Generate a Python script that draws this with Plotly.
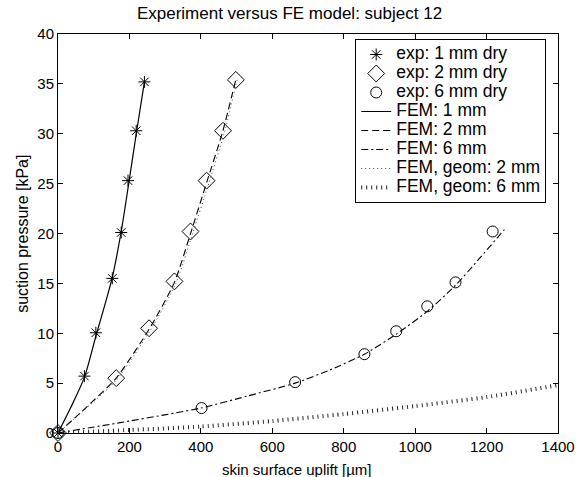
import plotly.graph_objects as go

# ---- data ----
exp1_x = [0, 74, 106, 152, 177, 196, 219, 242]
exp1_y = [0, 5.7, 10.05, 15.5, 20.1, 25.3, 30.3, 35.2]
exp2_x = [0, 163, 255, 326, 371, 416, 462, 498]
exp2_y = [0, 5.5, 10.5, 15.2, 20.2, 25.3, 30.3, 35.4]
exp6_x = [0, 402, 664, 858, 947, 1034, 1113, 1217]
exp6_y = [0, 2.5, 5.1, 7.9, 10.2, 12.7, 15.1, 20.2]

fem1_x = [0, 35, 74, 106, 130, 152, 176, 198, 220, 242]
fem1_y = [0, 2.5, 5.6, 9.7, 12.7, 15.6, 20.0, 25.0, 30.2, 35.2]
fem2_x = [0, 80, 163, 255, 326, 372, 417, 461, 497]
fem2_y = [0, 2.6, 5.5, 10.4, 15.1, 20.1, 25.2, 30.2, 35.3]
fem6_x = [0, 200, 400, 530, 664, 760, 858, 947, 1034, 1113, 1180, 1250]
fem6_y = [0, 1.2, 2.5, 3.7, 5.0, 6.3, 7.9, 9.9, 12.2, 14.8, 17.5, 20.4]
geom2_x = [0, 80, 163, 257, 330, 377, 422, 465, 502]
geom2_y = [0, 2.5, 5.3, 10.2, 15.0, 20.0, 25.0, 30.0, 35.5]
geom6_x = [0, 200, 400, 600, 800, 1000, 1200, 1400]
geom6_y = [0, 0.3, 0.65, 1.2, 1.9, 2.7, 3.6, 4.8]

names = ["exp: 1 mm dry", "exp: 2 mm dry", "exp: 6 mm dry", "FEM: 1 mm",
         "FEM: 2 mm", "FEM: 6 mm", "FEM, geom: 2 mm", "FEM, geom: 6 mm"]

FONT = "Liberation Sans, Arial, Helvetica, sans-serif"


def lg(s):
    return '<span style="font-size:17.5px">' + s + '</span>'


fig = go.Figure()
mk = dict(color="black", line=dict(color="black", width=1))
fig.add_trace(go.Scatter(x=exp1_x, y=exp1_y, mode="markers", name=lg(names[0]), cliponaxis=False,
                         marker=dict(symbol="asterisk-open", size=10, **mk)))
fig.add_trace(go.Scatter(x=exp2_x, y=exp2_y, mode="markers", name=lg(names[1]), cliponaxis=False,
                         marker=dict(symbol="diamond-open", size=13, **mk)))
fig.add_trace(go.Scatter(x=exp6_x, y=exp6_y, mode="markers", name=lg(names[2]), cliponaxis=False,
                         marker=dict(symbol="circle-open", size=11, **mk)))
fig.add_trace(go.Scatter(x=fem1_x, y=fem1_y, mode="lines", name=lg(names[3]),
                         line=dict(color="black", width=1.2, shape="spline", smoothing=0.8)))
fig.add_trace(go.Scatter(x=fem2_x, y=fem2_y, mode="lines", name=lg(names[4]),
                         line=dict(color="black", width=1.1, dash="7px,4px", shape="spline", smoothing=0.6)))
fig.add_trace(go.Scatter(x=fem6_x, y=fem6_y, mode="lines", name=lg(names[5]),
                         line=dict(color="black", width=1.1, dash="7px,3px,2px,3px", shape="spline", smoothing=0.6)))
fig.add_trace(go.Scatter(x=geom2_x, y=geom2_y, mode="lines", name=lg(names[6]),
                         line=dict(color="#444", width=1, dash="1px,3px", shape="spline", smoothing=0.6)))
fig.add_trace(go.Scatter(x=geom6_x, y=geom6_y, mode="lines", name=lg(names[7]),
                         line=dict(color="#222", width=4, dash="1px,4px", shape="spline", smoothing=0.6)))

axis_common = dict(showgrid=False, zeroline=False, showline=True, linecolor="black", linewidth=1,
                   mirror="ticks", ticks="inside", ticklen=5, tickcolor="black", tickwidth=1,
                   tickfont=dict(size=15, color="black", family=FONT))

fig.update_xaxes(range=[0, 1400], tickvals=[0, 200, 400, 600, 800, 1000, 1200, 1400], **axis_common)
fig.update_yaxes(range=[0, 40], tickvals=[0, 5, 10, 15, 20, 25, 30, 35, 40], **axis_common)

fig.update_layout(
    width=587, height=477,
    margin=dict(l=58, r=20, t=34, b=44, pad=0),
    paper_bgcolor="white", plot_bgcolor="white",
    font=dict(family=FONT, color="black", size=15),
    title=dict(text="Experiment versus FE model: subject 12", font=dict(size=17, family=FONT, color="black"),
               xref="paper", x=0.463, xanchor="center", yref="container", y=1 - 13 / 477, yanchor="middle"),
    showlegend=True,
    legend=dict(x=0.9764, y=0.9875, xanchor="right", yanchor="top", bgcolor="white",
                bordercolor="black", borderwidth=1, font=dict(size=12, family=FONT, color="black"),
                tracegroupgap=0, itemwidth=30),
    annotations=[
        dict(text="skin surface uplift [µm]", xref="paper", yref="paper", x=0.477, y=-0.0927,
             xanchor="center", yanchor="middle", showarrow=False, font=dict(size=15, family=FONT)),
        dict(text="suction pressure [kPa]", xref="paper", yref="paper", x=-0.0713, y=0.5,
             xanchor="center", yanchor="middle", textangle=-90, showarrow=False, font=dict(size=16, family=FONT)),
    ],
)

fig.write_html("out.html")
